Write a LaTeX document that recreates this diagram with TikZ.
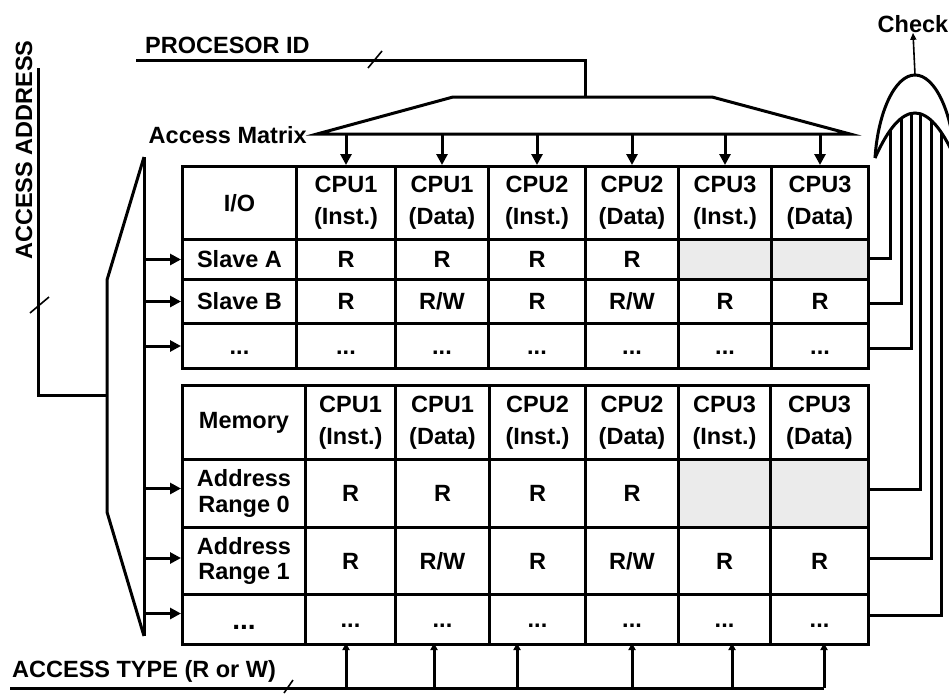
\documentclass[tikz,border=0pt]{standalone}
\usepackage{fontspec}
\setmainfont{Liberation Sans}
\usetikzlibrary{arrows.meta}
\tikzset{
  lbl/.style={font=\bfseries\fontsize{23.5}{28}\selectfont, inner sep=0pt},
  cell/.style={draw, line width=3pt, inner sep=0pt, anchor=north west, align=center,
     font=\bfseries\fontsize{23.5}{28}\selectfont},
  hdr/.style={font=\bfseries\fontsize{23.5}{32}\selectfont},
  adr/.style={font=\bfseries\fontsize{23.5}{25.5}\selectfont},
  grey/.style={fill=black!8},
  ln/.style={line width=3pt},
  thin/.style={line width=1.6pt},
  arr/.style={ln, -{Triangle[length=11pt,width=11pt]}},
  uparr/.style={ln, -{Triangle[length=7pt,width=7pt]}},
}
\newcommand{\mycell}[7][]{\node[cell,#1,minimum width={#5-#3}, minimum height={#6-#4}] (#2) at (#3,#4) {#7};}
\newcommand{\dd}{\vphantom{R}...}
\begin{document}
\begin{tikzpicture}[x=1pt,y=-1pt]
\useasboundingbox (0,0) rectangle (949,693);
\clip (0,0) rectangle (949,693);
\fill[white] (0,0) rectangle (949,693);

% ---------- top table ----------
\mycell[hdr]{ta0}{181}{165}{295}{238}{I/O}
\mycell[hdr]{ta1}{295}{165}{394}{238}{CPU1\\(Inst.)}
\mycell[hdr]{ta2}{394}{165}{487}{238}{CPU1\\(Data)}
\mycell[hdr]{ta3}{487}{165}{584}{238}{CPU2\\(Inst.)}
\mycell[hdr]{ta4}{584}{165}{677}{238}{CPU2\\(Data)}
\mycell[hdr]{ta5}{677}{165}{770}{238}{CPU3\\(Inst.)}
\mycell[hdr]{ta6}{770}{165}{867}{238}{CPU3\\(Data)}
\mycell{tb0}{181}{238}{295}{278}{Slave A}
\mycell{tb1}{295}{238}{394}{278}{R}
\mycell{tb2}{394}{238}{487}{278}{R}
\mycell{tb3}{487}{238}{584}{278}{R}
\mycell{tb4}{584}{238}{677}{278}{R}
\mycell[grey]{tb5}{677}{238}{770}{278}{}
\mycell[grey]{tb6}{770}{238}{867}{278}{}
\mycell{tc0}{181}{278}{295}{322}{Slave B}
\mycell{tc1}{295}{278}{394}{322}{R}
\mycell{tc2}{394}{278}{487}{322}{R/W}
\mycell{tc3}{487}{278}{584}{322}{R}
\mycell{tc4}{584}{278}{677}{322}{R/W}
\mycell{tc5}{677}{278}{770}{322}{R}
\mycell{tc6}{770}{278}{867}{322}{R}
\mycell{td0}{181}{322}{295}{367}{\dd}
\mycell{td1}{295}{322}{394}{367}{\dd}
\mycell{td2}{394}{322}{487}{367}{\dd}
\mycell{td3}{487}{322}{584}{367}{\dd}
\mycell{td4}{584}{322}{677}{367}{\dd}
\mycell{td5}{677}{322}{770}{367}{\dd}
\mycell{td6}{770}{322}{867}{367}{\dd}

% ---------- bottom table ----------
\mycell[hdr]{ba0}{181}{384}{304}{458}{Memory}
\mycell[hdr]{ba1}{304}{384}{394}{458}{CPU1\\(Inst.)}
\mycell[hdr]{ba2}{394}{384}{488}{458}{CPU1\\(Data)}
\mycell[hdr]{ba3}{488}{384}{584}{458}{CPU2\\(Inst.)}
\mycell[hdr]{ba4}{584}{384}{677}{458}{CPU2\\(Data)}
\mycell[hdr]{ba5}{677}{384}{769}{458}{CPU3\\(Inst.)}
\mycell[hdr]{ba6}{769}{384}{867}{458}{CPU3\\(Data)}
\mycell[adr]{bb0}{181}{458}{304}{526}{Address\\Range 0}
\mycell{bb1}{304}{458}{394}{526}{R}
\mycell{bb2}{394}{458}{488}{526}{R}
\mycell{bb3}{488}{458}{584}{526}{R}
\mycell{bb4}{584}{458}{677}{526}{R}
\mycell[grey]{bb5}{677}{458}{769}{526}{}
\mycell[grey]{bb6}{769}{458}{867}{526}{}
\mycell[adr]{bc0}{181}{526}{304}{593}{Address\\Range 1}
\mycell{bc1}{304}{526}{394}{593}{R}
\mycell{bc2}{394}{526}{488}{593}{R/W}
\mycell{bc3}{488}{526}{584}{593}{R}
\mycell{bc4}{584}{526}{677}{593}{R/W}
\mycell{bc5}{677}{526}{769}{593}{R}
\mycell{bc6}{769}{526}{867}{593}{R}
\mycell[font=\bfseries\fontsize{28}{28}\selectfont]{bd0}{181}{593}{304}{643}{\dd}
\mycell{bd1}{304}{593}{394}{643}{\dd}
\mycell{bd2}{394}{593}{488}{643}{\dd}
\mycell{bd3}{488}{593}{584}{643}{\dd}
\mycell{bd4}{584}{593}{677}{643}{\dd}
\mycell{bd5}{677}{593}{769}{643}{\dd}
\mycell{bd6}{769}{593}{867}{643}{\dd}

% ---------- processor id bus ----------
\node[lbl, anchor=west] (pid) at (145,45) {PROCESOR ID};
\coordinate (pidL) at (136,60);
\coordinate (pidT) at (585,97);
\draw[ln] (pidL) -- (585,60) -- (pidT);
\draw[thin] (368,68) -- (382,51);
\coordinate (trL) at (317,134);
\coordinate (trR) at (850,134);
\draw[ln, line join=miter] (trL) -- (453,97) -- (712,97) -- (trR) -- cycle;
\node[lbl, anchor=east] (am) at (307,135) {Access Matrix};
\foreach \c in {1,...,6} {
  \draw[arr] (ta\c.north |- trL) -- (ta\c.north);
}

% ---------- access address bus ----------
\node[lbl, rotate=90] (aa) at (24,150) {ACCESS ADDRESS};
\coordinate (aaT) at (38,68);
\coordinate (aaJ) at (107,395);
\draw[ln] (aaT) -- (38,395) -- (aaJ);
\draw[thin] (30,313) -- (49,297);
\coordinate (busT) at (144,157);
\coordinate (busB) at (144,636);
\draw[ln, line join=miter] (busT) -- (107,280) -- (107,512) -- (busB);
\draw[ln] (busT) -- (busB);
\foreach \r/\s in {tb0/0,tc0/0,td0/0,bb0/5,bc0/3,bd0/6} {
  \coordinate (e\r) at ([yshift=\s pt]\r.west);
  \draw[arr] (busT |- e\r) -- (e\r);
}

% ---------- access type bus ----------
\node[lbl, anchor=south west] (at) at (12,683) {ACCESS TYPE (R or W)};
\coordinate (atL) at (10,688);
\coordinate (atR) at (824,688);
\draw[ln] (atL) -- (atR);
\draw[thin] (284,693) -- (293,680);
\foreach \x in {346,434,517,632,732,824} {
  \draw[uparr] (\x,688) -- (\x,643);
}

% ---------- OR gate ----------
\coordinate (gL) at (875,158);
\coordinate (gR) at (955,158);
\coordinate (gO) at (915,75);
\draw[ln] (gL) .. controls (878,112) and (895,75) .. (gO) .. controls (935,75) and (952,112) .. (gR);
\draw[ln] (gL) .. controls (901.67,98) and (928.33,98) .. (gR);
\node[lbl] (chk) at (913,24) {Check};
\draw[thin, -{Triangle[length=7pt,width=6pt]}] (gO) -- (chk.south);

% outputs into the gate (inner curve y = 113 + 0.028125 (x-915)^2)
\draw[ln] ([yshift=1pt]tb6.east) -| (890,130.6);
\draw[ln] ([yshift=-2pt]tc6.east) -| (901,118.5);
\draw[ln] ([yshift=-2pt]td6.east) -| (911,113.5);
\draw[ln] ([yshift=4pt]bb6.east) -| (920,113.7);
\draw[ln] ([yshift=3pt]bc6.east) -| (931,120.2);
\draw[ln] ([yshift=4pt]bd6.east) -| (941,132);
\end{tikzpicture}
\end{document}
